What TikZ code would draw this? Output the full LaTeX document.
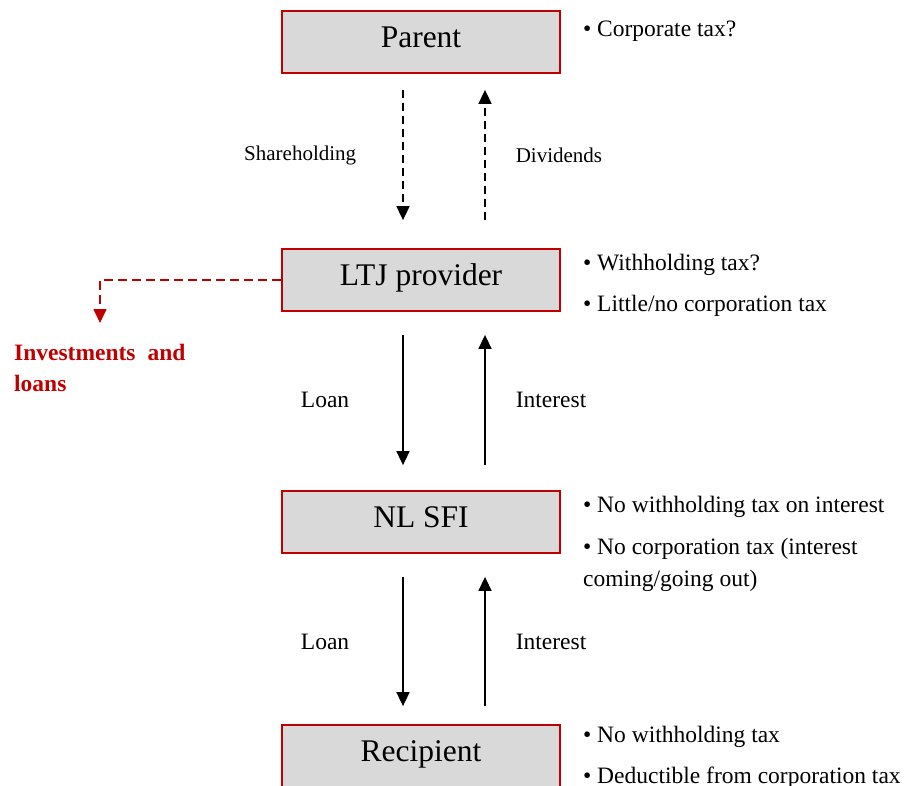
\documentclass[tikz,border=0pt]{standalone}
\usepackage{fontspec}
\setmainfont{Liberation Serif}
\usetikzlibrary{arrows.meta,positioning,calc}
\definecolor{boxred}{HTML}{C00000}
\definecolor{boxgray}{HTML}{D9D9D9}

\begin{document}
\begin{tikzpicture}[x=1pt,y=-1pt,
    entity/.style={rectangle,draw=boxred,fill=boxgray,line width=1.8pt,
      minimum width=278pt,minimum height=62pt,inner sep=0pt,
      text height=22pt,text depth=12pt,
      font=\fontsize{31.5}{37}\selectfont},
    note/.style={anchor=base west,align=left,inner sep=0pt,
      font=\fontsize{23.5}{32}\selectfont},
    flow/.style={line width=1.6pt,-{Triangle[width=13pt,length=14pt]}},
    owner/.style={flow,dash pattern=on 8pt off 5pt},
    label/.style={inner sep=0pt,font=\fontsize{23.5}{28}\selectfont},
    smalllabel/.style={inner sep=0pt,font=\fontsize{21}{25}\selectfont}]
  \useasboundingbox (0,0) rectangle (909,785);

  % the four entities
  \node[entity] (parent) at (421,42) {Parent};
  \node[entity] (ltj) at (421,280) {LTJ provider};
  \node[entity] (sfi) at (421,522) {NL SFI};
  \node[entity] (recipient) at (421,756) {Recipient};

  % tax remarks
  \node[note] (parentnote) at ($(parent.north east)+(22,26)$) {• Corporate tax?};
  \node[note] (ltjnote1) at ($(ltj.north east)+(22,22)$) {• Withholding tax?};
  \node[note] (ltjnote2) at ($(ltjnote1.base west)+(0,41)$) {• Little/no corporation tax};
  \node[note] (sfinote1) at ($(sfi.north east)+(22,22)$) {• No withholding tax on interest};
  \node[note] (sfinote2) at ($(sfinote1.base west)+(0,42)$) {• No corporation tax (interest};
  \node[note] (sfinote3) at ($(sfinote2.base west)+(0,32)$) {coming/going out)};
  \node[note] (recnote1) at ($(recipient.north east)+(22,18)$) {• No withholding tax};
  \node[note] (recnote2) at ($(recnote1.base west)+(0,41)$) {• Deductible from corporation tax};

  % ownership
  \draw[owner] ($(parent.south)+(-18,16)$) -- node[smalllabel,midway,left=46pt] {Shareholding} ($(ltj.north)+(-18,-28)$);
  \draw[owner] ($(ltj.north)+(64,-28)$) -- node[smalllabel,midway,right=30pt] {Dividends} ($(parent.south)+(64,16)$);

  % loans and interest
  \draw[flow] ($(ltj.south)+(-18,23)$) -- node[label,midway,left=53pt] {Loan} ($(sfi.north)+(-18,-25)$);
  \draw[flow] ($(sfi.north)+(64,-25)$) -- node[label,midway,right=30pt] {Interest} ($(ltj.south)+(64,23)$);
  \draw[flow] ($(sfi.south)+(-18,23)$) -- node[label,midway,left=53pt] {Loan} ($(recipient.north)+(-18,-18)$);
  \draw[flow] ($(recipient.north)+(64,-18)$) -- node[label,midway,right=30pt] {Interest} ($(sfi.south)+(64,23)$);

  % side investments
  \coordinate (investtip) at (100,323);
  \node[anchor=base west,align=left,inner sep=0pt,text=boxred,
    font=\fontsize{23.5}{31}\selectfont\bfseries] (invest) at (14,391)
    {Investments\hspace{12pt}and\\loans};
  \draw[flow,boxred,dash pattern=on 9pt off 5pt] (ltj.west) -| (investtip);
\end{tikzpicture}
\end{document}
